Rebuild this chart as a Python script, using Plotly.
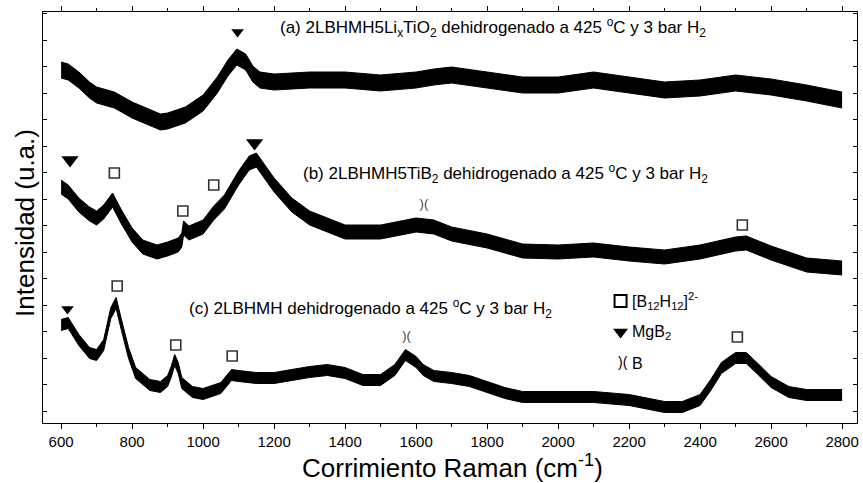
import plotly.graph_objects as go

# ---- data (intensity in arbitrary units, spectra stacked) ----
x_a = [600, 620, 650, 680, 700, 720, 750, 800, 850, 880, 900, 950, 1000, 1040, 1070, 1095, 1120, 1140,
       1160, 1200, 1300, 1400, 1500, 1600, 1650, 1700, 1800, 1900, 2000, 2100, 2200, 2300, 2400, 2500,
       2600, 2700, 2800]
y_a = [353, 351, 343, 333, 328, 326, 323, 313, 305, 301, 302, 308, 320, 338, 355, 366, 361, 349,
       343, 341, 343, 343, 340, 343, 346, 348, 343, 338, 338, 343, 338, 333, 335, 340,
       336, 330, 323]

x_b = [600, 620, 650, 680, 700, 720, 745, 770, 800, 830, 870, 900, 930, 940, 945, 960, 1000, 1030,
       1060, 1100, 1130, 1150, 1180, 1200, 1250, 1300, 1350, 1400, 1500, 1600, 1650, 1700, 1800, 1900,
       2000, 2100, 2200, 2300, 2400, 2450, 2500, 2530, 2600, 2700, 2800]
y_b = [236, 231, 218, 209, 205, 211, 223, 206, 188, 176, 171, 174, 178, 183, 195, 190, 196, 210,
       221, 245, 260, 263, 248, 238, 218, 205, 198, 191, 191, 198, 196, 189, 182, 172,
       171, 173, 169, 166, 171, 175, 179, 180, 170, 158, 155]

x_c = [600, 620, 650, 680, 700, 720, 740, 755, 770, 790, 810, 850, 880, 900, 910, 920, 930, 940, 970,
       1000, 1050, 1080, 1100, 1150, 1200, 1250, 1300, 1350, 1400, 1450, 1500, 1540, 1570, 1600, 1620,
       1650, 1700, 1750, 1800, 1850, 1900, 2000, 2100, 2200, 2300, 2350, 2400, 2430, 2460, 2500, 2530,
       2560, 2600, 2650, 2700, 2800]
y_c = [98, 100, 83, 70, 68, 78, 110, 120, 98, 70, 50, 38, 36, 42, 51, 63, 55, 40, 31,
       29, 35, 48, 47, 45, 45, 48, 51, 53, 50, 43, 43, 53, 68, 61, 53,
       47, 45, 42, 36, 30, 26, 26, 26, 23, 16, 16, 23, 38, 55, 65, 65,
       55, 41, 31, 28, 28]

# noise half-width of the dense trace band, per spectrum
noise_a = 8
noise_b = 7
noise_c = 5.5

# peak markers
sq_x = [750, 943, 1030, 2519, 758, 923, 1082, 2505]
sq_y = [250, 212, 238, 198, 137, 78, 67, 86]
tri_big_x = [625, 1145]
tri_big_y = [263, 280]
tri_small_x = [1097, 618]
tri_small_y = [391, 114]
boron_x = [1622, 1573]
boron_y = [218, 86]

labels = [
    "(a) 2LBHMH5Li<sub>x</sub>TiO<sub>2</sub> dehidrogenado a 425 <sup>o</sup>C y 3 bar H<sub>2</sub>",
    "(b) 2LBHMH5TiB<sub>2</sub> dehidrogenado a 425 <sup>o</sup>C y 3 bar H<sub>2</sub>",
    "(c) 2LBHMH dehidrogenado a 425 <sup>o</sup>C y 3 bar H<sub>2</sub>",
]
label_x = [1210, 1277, 954]
label_y = [396, 250, 115]

legend_x = 2176
legend_y = [122, 91, 60]
legend_text = ["[B<sub>12</sub>H<sub>12</sub>]<sup>2-</sup>", "MgB<sub>2</sub>", "B"]

FONT = "Liberation Sans, Arial, sans-serif"

fig = go.Figure()

for xs, ys, nz in [(x_a, y_a, noise_a), (x_b, y_b, noise_b), (x_c, y_c, noise_c)]:
    lo = [v - nz for v in ys]
    hi = [v + nz for v in ys]
    fig.add_trace(go.Scatter(x=xs, y=lo, mode="lines", line=dict(color="black", width=1),
                             showlegend=False, hoverinfo="skip"))
    fig.add_trace(go.Scatter(x=xs, y=hi, mode="lines", line=dict(color="black", width=1),
                             fill="tonexty", fillcolor="black", showlegend=False, hoverinfo="skip"))

fig.add_trace(go.Scatter(x=sq_x, y=sq_y, mode="markers",
                         marker=dict(symbol="square-open", size=10, color="#333333", line=dict(width=1.6)),
                         showlegend=False))
fig.add_trace(go.Scatter(x=tri_big_x, y=tri_big_y, mode="markers",
                         marker=dict(symbol="triangle-down", size=15, color="black"), showlegend=False))
fig.add_trace(go.Scatter(x=tri_small_x, y=tri_small_y, mode="markers",
                         marker=dict(symbol="triangle-down", size=11, color="black"), showlegend=False))
fig.add_trace(go.Scatter(x=boron_x, y=boron_y, mode="text", text=[")(", ")("],
                         textfont=dict(family=FONT, size=13, color="#444444"), showlegend=False))

# legend-like key
fig.add_trace(go.Scatter(x=[legend_x], y=[legend_y[0]], mode="markers",
                         marker=dict(symbol="square-open", size=12, color="black", line=dict(width=2)),
                         showlegend=False))
fig.add_trace(go.Scatter(x=[legend_x], y=[legend_y[1]], mode="markers",
                         marker=dict(symbol="triangle-down", size=13, color="black"), showlegend=False))
fig.add_trace(go.Scatter(x=[legend_x + 6], y=[legend_y[2]], mode="text", text=[")("],
                         textfont=dict(family=FONT, size=14, color="black"), showlegend=False))

ann = []
for t, xx, yy in zip(labels, label_x, label_y):
    ann.append(dict(x=xx, y=yy, xref="x", yref="y", text=t, showarrow=False, xanchor="left",
                    yanchor="middle", font=dict(family=FONT, size=17, color="black")))
for t, yy in zip(legend_text, legend_y):
    ann.append(dict(x=legend_x + 26, y=yy, xref="x", yref="y", text=t, showarrow=False, xanchor="left",
                    yanchor="middle", font=dict(family=FONT, size=16, color="black")))
ann.append(dict(x=0.5025, y=-0.107, xref="paper", yref="paper", text="Corrimiento Raman (cm<sup>-1</sup>)",
                showarrow=False, xanchor="center", yanchor="middle", font=dict(family=FONT, size=26, color="black")))
ann.append(dict(x=-0.022, y=0.487, xref="paper", yref="paper", text="Intensidad (u.a.)", textangle=-90,
                showarrow=False, xanchor="center", yanchor="middle", font=dict(family=FONT, size=26, color="black")))

fig.update_layout(
    width=863, height=483,
    margin=dict(l=43, r=4, t=12, b=60),
    paper_bgcolor="white", plot_bgcolor="white",
    annotations=ann,
    xaxis=dict(range=[549, 2842], tick0=600, dtick=200, ticks="outside", ticklen=5, tickwidth=1,
               tickcolor="black", showline=True, linecolor="black", linewidth=1, mirror="ticks",
               showgrid=False, zeroline=False, tickfont=dict(family=FONT, size=15, color="black"),
               minor=dict(dtick=100, ticks="outside", ticklen=3, tickcolor="black")),
    yaxis=dict(range=[0, 411], tick0=12, dtick=26.5, ticks="inside", ticklen=4, tickcolor="black",
               showticklabels=False, showline=True, linecolor="black", linewidth=1, mirror="ticks",
               showgrid=False, zeroline=False),
)

fig.write_html("out.html")
